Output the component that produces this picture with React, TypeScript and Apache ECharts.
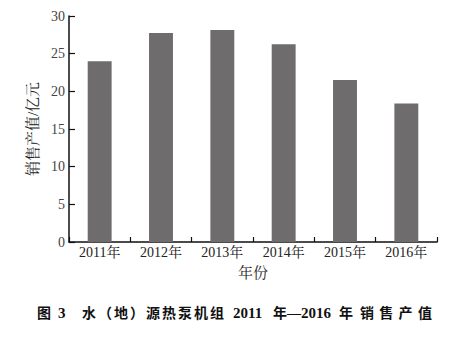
import React, { useEffect, useRef } from "react";
import * as echarts from "echarts";

const categories = ["2011年", "2012年", "2013年", "2014年", "2015年", "2016年"];
const values = [24.0, 27.75, 28.15, 26.25, 21.5, 18.4];
const yTicks = { min: 0, max: 30, interval: 5 };
const yName = "销售产值/亿元";
const xName = "年份";
// caption pieces: [text, start x, advance per char (0 = natural)]
const captionPieces: [string, number, number][] = [
  ["图", 37, 0],
  ["3", 58, 0],
  ["水（地）源热泵机组", 82, 16],
  ["2011", 233, 0],
  ["年", 273, 0],
  ["—", 287, 0],
  ["2016", 301, 0],
  ["年", 339, 0],
  ["销售产值", 360, 19.3],
];

const serif = "'Times New Roman', 'Liberation Serif', 'Noto Serif CJK SC', 'Noto Sans CJK SC', serif";
const capFont = "bold 14px 'Liberation Serif', 'Noto Sans CJK SC', serif";
const capDigitFont = "bold 15px 'Liberation Serif', serif";

function captionGraphics() {
  const out: any[] = [];
  captionPieces.forEach(([t, x, adv]) => {
    const isDigit = /^[0-9]+$/.test(t);
    if (adv > 0) {
      Array.from(t).forEach((ch, i) => {
        out.push({
          type: "text",
          x: x + i * adv,
          y: 313,
          style: { text: ch, fill: "#111", font: capFont, textAlign: "left", textVerticalAlign: "middle" },
        });
      });
    } else {
      out.push({
        type: "text",
        x,
        y: 313,
        style: {
          text: t,
          fill: "#111",
          font: isDigit ? capDigitFont : capFont,
          textAlign: "left",
          textVerticalAlign: "middle",
        },
      });
    }
  });
  return out;
}

export default function App() {
  const ref = useRef<HTMLDivElement>(null);
  useEffect(() => {
    if (!ref.current) return;
    const chart = echarts.init(ref.current, null, { renderer: "svg" });
    chart.setOption({
      animation: false,
      backgroundColor: "#ffffff",
      grid: { left: 69, right: 18, top: 16, bottom: 96 },
      graphic: captionGraphics(),
      xAxis: {
        type: "category",
        data: categories,
        name: xName,
        nameLocation: "middle",
        nameGap: 23,
        nameTextStyle: { fontFamily: serif, fontSize: 15, color: "#222" },
        axisLine: { lineStyle: { color: "#111", width: 1.5 } },
        axisTick: { show: true, inside: true, length: 5, alignWithLabel: false, lineStyle: { color: "#111", width: 1.2 } },
        axisLabel: { fontFamily: serif, fontSize: 14, color: "#222", margin: 3, interval: 0 },
        splitLine: { show: false },
      },
      yAxis: {
        type: "value",
        min: yTicks.min,
        max: yTicks.max,
        interval: yTicks.interval,
        name: yName,
        nameLocation: "middle",
        nameGap: 26,
        nameTextStyle: { fontFamily: serif, fontSize: 15, color: "#222" },
        axisLine: { show: true, lineStyle: { color: "#111", width: 1.5 } },
        axisTick: { show: true, inside: true, length: 6, lineStyle: { color: "#111", width: 1.2 } },
        axisLabel: { fontFamily: serif, fontSize: 14, color: "#444", margin: 4 },
        splitLine: { show: false },
      },
      series: [
        {
          type: "bar",
          data: values,
          barWidth: "39%",
          itemStyle: { color: "#6e6c6d" },
        },
      ],
    });
    return () => chart.dispose();
  }, []);
  return <div ref={ref} style={{ width: 455, height: 338, margin: -8 }} />;
}
